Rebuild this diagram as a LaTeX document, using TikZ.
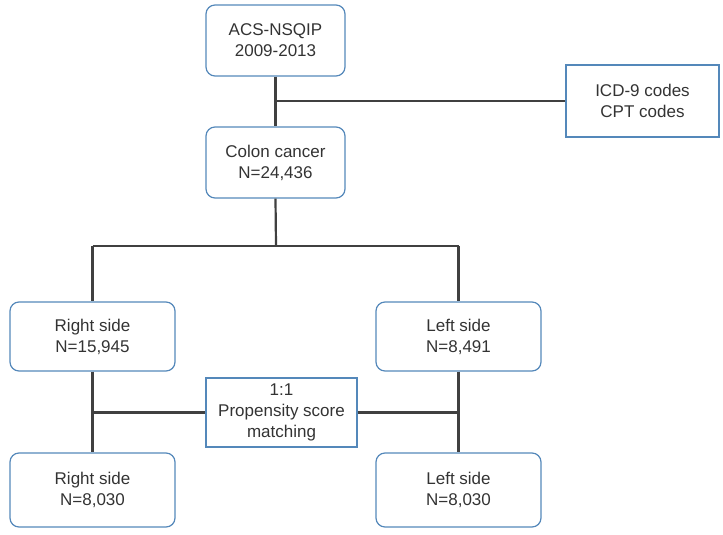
\documentclass[tikz,border=0pt]{standalone}
\usepackage{fontspec}
\setmainfont{Liberation Sans}
\definecolor{boxblue}{RGB}{84,136,186}
\definecolor{linegray}{RGB}{64,64,64}
\begin{document}
\begin{tikzpicture}[x=1pt,y=-1pt,
    box/.style={draw=boxblue, line width=1.2pt, rounded corners=9pt, align=center,
        font=\fontsize{17}{21}\selectfont, text=black!80, inner sep=0pt},
    sqbox/.style={box, rounded corners=0pt},
    link/.style={draw=linegray, line width=2.2pt}]
    \useasboundingbox (0,0) rectangle (723,535);

    % Boxes
    \node[box, minimum width=139pt, minimum height=71pt] (acs) at (275.5,40.5) {ACS-NSQIP\\2009-2013};
    \node[sqbox, minimum width=153pt, minimum height=72pt] (icd) at (642.5,101) {ICD-9 codes\\CPT codes};
    \node[box, minimum width=139pt, minimum height=71pt] (colon) at (275.5,162.5) {Colon cancer\\N=24,436};
    \node[box, minimum width=165pt, minimum height=69pt] (rside) at (92.5,336.5) {Right side\\N=15,945};
    \node[box, minimum width=165pt, minimum height=69pt] (lside) at (458.5,336.5) {Left side\\N=8,491};
    \node[sqbox, minimum width=151pt, minimum height=69pt] (psm) at (281.5,412.5) {1:1\\Propensity score\\matching};
    \node[box, minimum width=165pt, minimum height=74pt] (rmatch) at (92.5,490) {Right side\\N=8,030};
    \node[box, minimum width=165pt, minimum height=74pt] (lmatch) at (458.5,490) {Left side\\N=8,030};

    % Connectors
    \coordinate (codes) at (acs.south |- icd.west);
    \coordinate (split) at (276,246);
    \coordinate (rsplit) at (rside.north |- split);
    \coordinate (lsplit) at (lside.north |- split);
    \draw[link] (acs.south) -- (colon.north);
    \draw[link] (codes) -- (icd.west);
    \draw[link] (colon.south) -- (split);
    \draw[link] (rsplit) -- (lsplit);
    \draw[link] (rsplit) -- (rside.north);
    \draw[link] (lsplit) -- (lside.north);
    \draw[link] (rside.south) -- (rmatch.north);
    \draw[link] (lside.south) -- (lmatch.north);
    \draw[link] (rside.south |- psm.west) -- (psm.west);
    \draw[link] (psm.east) -- (lside.south |- psm.east);
\end{tikzpicture}
\end{document}
